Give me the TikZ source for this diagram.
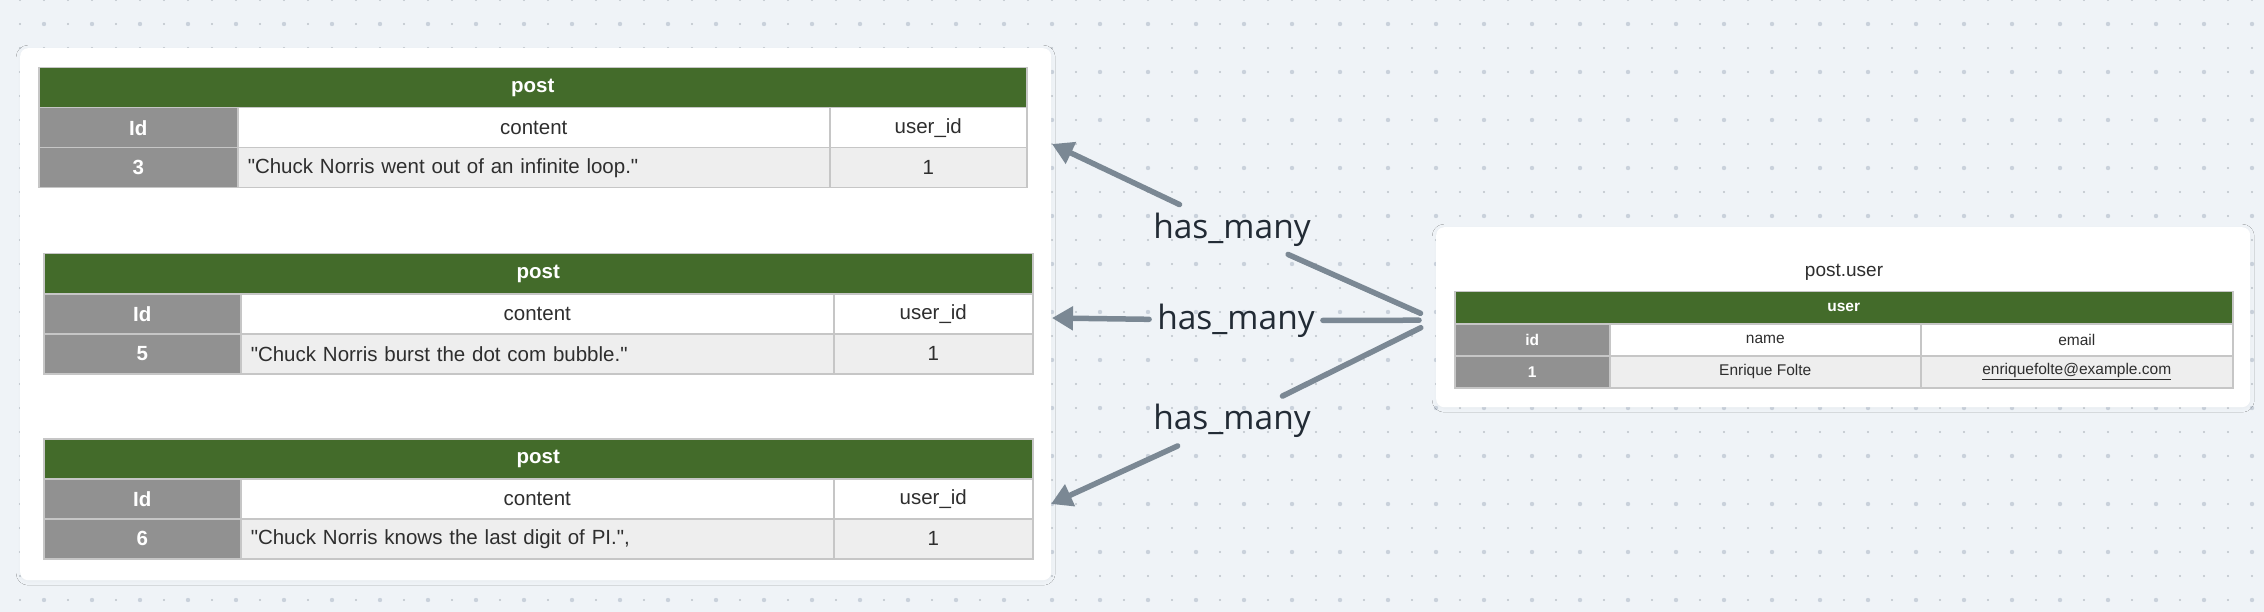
\documentclass[tikz,border=0pt]{standalone}
\usepackage{fontspec}
\setmainfont{Liberation Sans}
\newfontfamily\labelfont{Open Sans}
\usepackage{tikz}
\usetikzlibrary{arrows.meta, positioning, calc, shadows.blur}
\definecolor{canvasgray}{HTML}{EFF3F7}
\definecolor{dotgray}{HTML}{BCC2C9}
\definecolor{dotblue}{HTML}{C9D1DB}
\definecolor{headgreen}{HTML}{436B2A}
\definecolor{keygray}{HTML}{919191}
\definecolor{rowgray}{HTML}{EEEEEE}
\definecolor{gridline}{HTML}{C6C6C6}
\definecolor{inkgray}{HTML}{2E2E2E}
\definecolor{linkslate}{HTML}{7B8894}
\definecolor{labelink}{HTML}{222B35}

\tikzset{
  card/.style={fill=white, rounded corners=8pt, inner sep=0pt, anchor=north west,
    blur shadow={shadow blur radius=4pt, shadow xshift=0pt, shadow yshift=-1pt, shadow opacity=3}},
  cell/.style={draw=gridline, line width=1.5pt, inner sep=0pt, anchor=north west, text=inkgray},
  headcell/.style={cell, fill=headgreen, text=white},
  keycell/.style={cell, fill=keygray, text=white},
  fieldcell/.style={cell, fill=white},
  valuecell/.style={cell, fill=rowgray},
  rellabel/.style={text=labelink, inner sep=8pt, font=\fontsize{33.5}{33.5}\selectfont\labelfont},
  relline/.style={linkslate, line width=5.5pt, line cap=round},
  relarrow/.style={relline, -{Triangle[length=21pt, width=23pt]}}
}

\begin{document}
\begin{tikzpicture}[x=1pt, y=-1pt]
  \useasboundingbox (0,0) rectangle (2264,612);
  \fill[canvasgray] (0,0) rectangle (2264,612);

  % dotted canvas
  \foreach \x in {20,44,...,2264}
    \foreach \y in {0,24,...,612}
      \fill[dotgray] (\x,\y) circle (1.1);
  \foreach \x in {44,92,...,2264}
    \foreach \y in {24,72,...,612}
      \fill[dotblue] (\x,\y) circle (2.2);

  % cards
  \node[card, minimum width=1031, minimum height=532] (postcard) at (20,48) {};
  \node[card, minimum width=814, minimum height=180] (usercard) at (1436,227) {};

  % post tables
  \foreach \tbl/\xa/\xb/\xc/\xd/\ya/\pid/\ptext in {
    p1/38/237/829/1026/67/3/{\textquotedbl Chuck Norris went out of an infinite loop.\textquotedbl},
    p2/43/240/833/1032/253/5/{\textquotedbl Chuck Norris burst the dot com bubble.\textquotedbl},
    p3/43/240/833/1032/438/6/{\textquotedbl Chuck Norris knows the last digit of PI.\textquotedbl,}} {
    \pgfmathsetmacro\wall{\xd-\xa}
    \pgfmathsetmacro\wa{\xb-\xa}
    \pgfmathsetmacro\wb{\xc-\xb}
    \pgfmathsetmacro\wc{\xd-\xc}
    \pgfmathsetmacro\yb{\ya+40}
    \pgfmathsetmacro\yc{\ya+80}
    \begin{scope}[every node/.append style={font=\fontsize{20.5}{20.5}\selectfont, minimum height=40}]
      \node[headcell, minimum width=\wall] (\tbl-head) at (\xa,\ya) {\textbf{post}};
      \node[keycell, minimum width=\wa] (\tbl-idkey) at (\xa,\yb) {\textbf{Id}};
      \node[fieldcell, minimum width=\wb] (\tbl-ctkey) at (\xb,\yb) {content};
      \node[fieldcell, minimum width=\wc] (\tbl-uidkey) at (\xc,\yb) {user\_id};
      \node[keycell, minimum width=\wa] (\tbl-id) at (\xa,\yc) {\textbf{\pid}};
      \node[valuecell, minimum width=\wb, text width=\wb-20, align=left] (\tbl-ct) at (\xb,\yc) {\ptext};
      \node[valuecell, minimum width=\wc] (\tbl-uid) at (\xc,\yc) {1};
    \end{scope}
  }

  % user table
  \node[text=inkgray, font=\fontsize{19}{19}\selectfont] (userlbl) at (1844,272) {post.user};
  \begin{scope}[every node/.append style={font=\fontsize{15.5}{15.5}\selectfont, minimum height=32}]
    \node[headcell, minimum width=778] (u-head) at (1454,291) {\textbf{user}};
    \node[keycell, minimum width=155] (u-idkey) at (1454,323) {\textbf{id}};
    \node[fieldcell, minimum width=311] (u-namekey) at (1609,323) {name};
    \node[fieldcell, minimum width=312] (u-mailkey) at (1920,323) {email};
    \node[keycell, minimum width=155] (u-id) at (1454,355) {\textbf{1}};
    \node[valuecell, minimum width=311] (u-name) at (1609,355) {Enrique Folte};
    \node[valuecell, minimum width=312] (u-mail) at (1920,355) {\underline{enriquefolte@example.com}};
  \end{scope}

  % has_many links
  \coordinate (usersrc) at ([yshift=-3pt]usercard.west);
  \coordinate (tip1) at (1052,144);
  \coordinate (tip2) at (1052,318);
  \coordinate (tip3) at (1051,504);
  \node[rellabel] (rel1) at (1232,229.5) {has\_many};
  \node[rellabel] (rel2) at (1236,320.5) {has\_many};
  \node[rellabel] (rel3) at (1232,421) {has\_many};
  \foreach \i in {1,2,3} {
    \draw[relline, shorten <=17pt] (usersrc) -- (rel\i);
    \draw[relarrow] (rel\i) -- (tip\i);
  }
\end{tikzpicture}
\end{document}
